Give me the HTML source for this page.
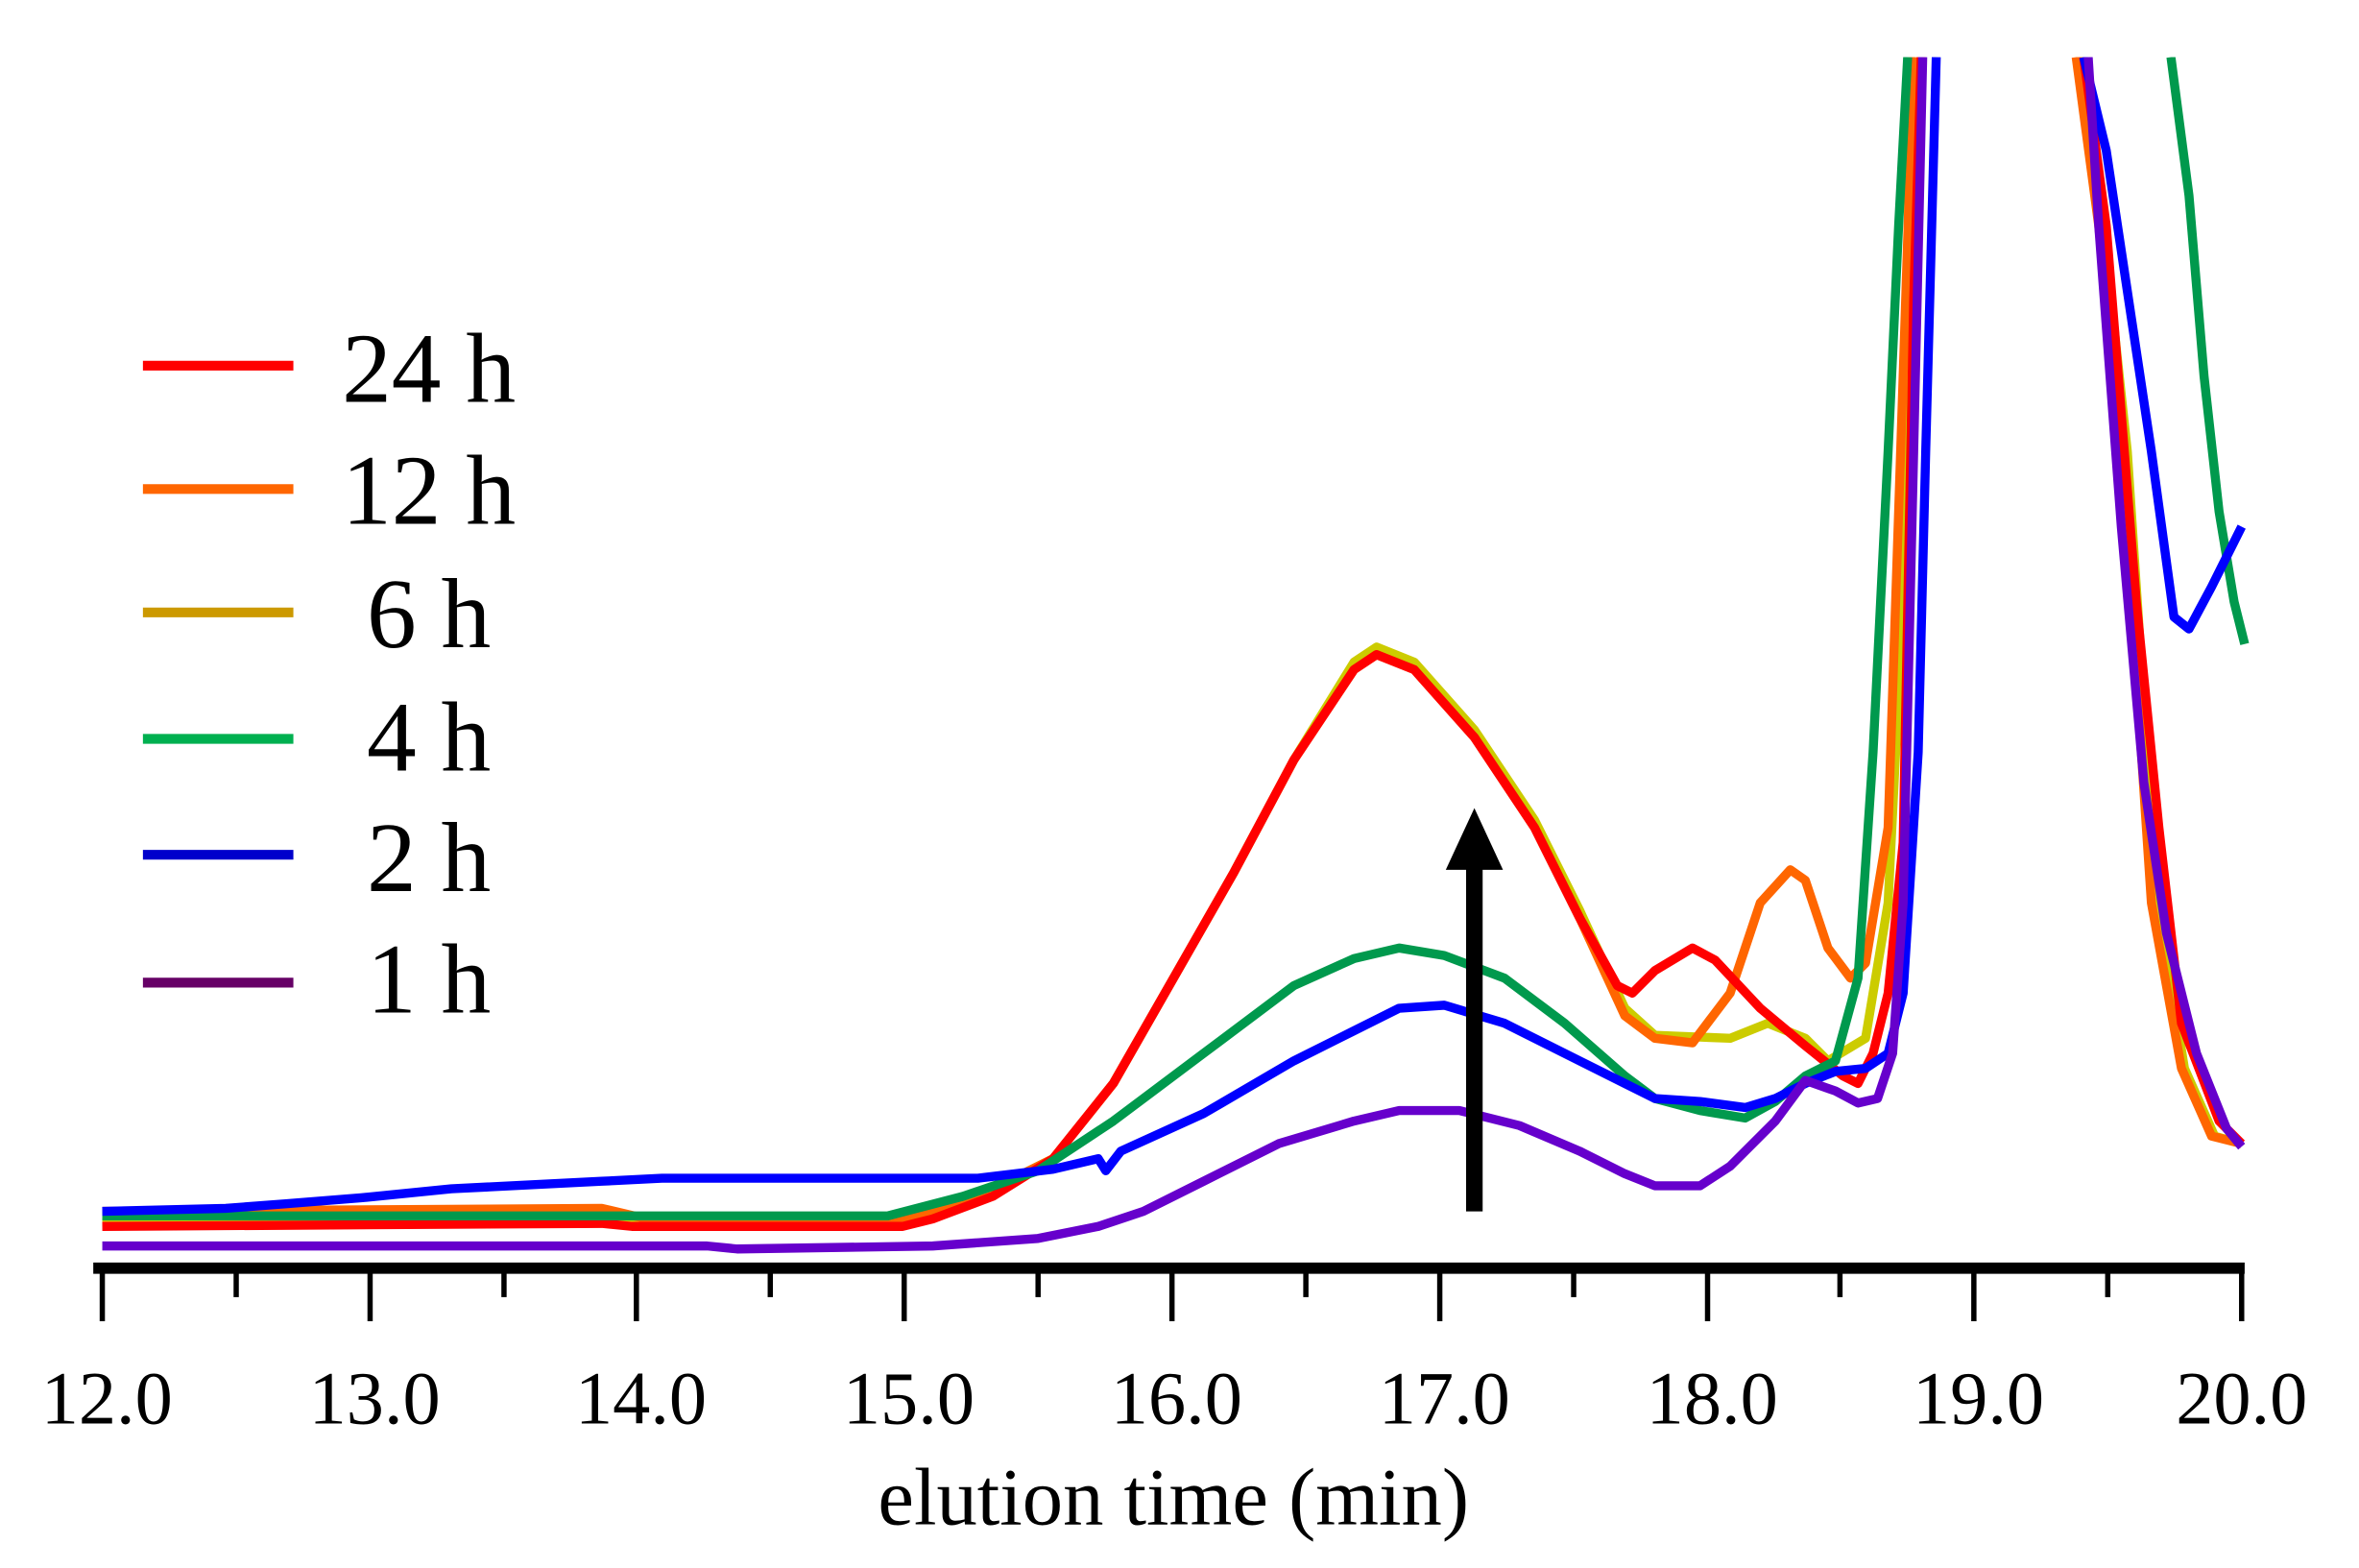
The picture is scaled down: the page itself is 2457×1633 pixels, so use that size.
<!DOCTYPE html>
<html><head><meta charset="utf-8"><style>
html,body{margin:0;padding:0;background:#fff;}
svg{display:block;}
text{font-family:"Liberation Serif",serif;fill:#000;}
</style></head><body>
<svg width="2457" height="1633" viewBox="0 0 1568 1042" preserveAspectRatio="none" xmlns="http://www.w3.org/2000/svg">
<defs><clipPath id="c"><rect x="60" y="38" width="1440" height="800"/></clipPath></defs>
<g clip-path="url(#c)" fill="none" stroke-width="6" stroke-linejoin="round">
<polyline stroke="#cccc00" points="68,812 300,810 600,810 640,800 700,770 740,720 780,650 820,580 860,505 900,440 915,430 940,440 980,485 1020,545 1050,605 1080,670 1100,688 1150,690 1175,680 1200,690 1215,705 1240,690 1255,600 1265,400 1270,38"/>
<polyline stroke="#cccc00" points="1382,38 1398,150 1414,300 1434,600 1452,710 1472,755 1490,760"/>
<polyline stroke="#ff6600" points="68,805 400,803 430,810 600,810 640,800 700,770 740,720 780,650 820,580 860,505 900,445 915,435 940,445 980,490 1020,550 1050,610 1080,675 1100,690 1125,693 1150,660 1170,600 1190,578 1200,585 1215,630 1230,650 1240,640 1255,550 1265,250 1272,38"/>
<polyline stroke="#ff6600" points="1380,38 1395,150 1410,300 1430,600 1450,710 1470,755 1490,760"/>
<polyline stroke="#ff0000" points="68,815 400,813 420,815 600,815 620,810 660,795 700,770 740,720 780,650 820,580 860,505 900,445 915,435 940,445 980,490 1020,550 1050,610 1075,655 1085,660 1100,645 1125,630 1140,638 1170,670 1200,695 1225,715 1235,720 1245,700 1255,660 1265,560 1272,200 1277,38"/>
<polyline stroke="#ff0000" points="1385,38 1400,150 1420,400 1435,550 1450,680 1475,745 1490,760"/>
<polyline stroke="#00994d" points="68,808 590,808 640,795 690,778 740,745 800,700 860,655 900,637 930,630 960,635 1000,650 1040,680 1080,715 1100,730 1130,738 1160,743 1180,732 1200,715 1220,705 1235,650 1245,500 1255,300 1262,150 1268,38"/>
<polyline stroke="#00994d" points="1443,38 1455,130 1465,250 1475,340 1485,400 1492,428"/>
<polyline stroke="#0000ff" points="68,805 150,803 190,800 240,796 300,790 400,785 440,783 650,783 700,777 730,770 735,778 745,765 800,740 860,705 900,685 930,670 960,668 1000,680 1040,700 1080,720 1100,730 1130,732 1160,736 1180,730 1200,720 1220,712 1240,710 1255,700 1265,660 1275,500 1280,300 1287,38"/>
<polyline stroke="#0000ff" points="1385,38 1400,100 1415,200 1430,300 1445,410 1455,418 1470,390 1490,350"/>
<polyline stroke="#6600cc" points="68,828 470,828 490,830 620,828 690,823 730,815 760,805 800,785 850,760 900,745 930,738 970,738 1010,748 1050,765 1080,780 1100,788 1130,788 1150,775 1180,745 1200,718 1220,725 1235,733 1248,730 1258,700 1265,600 1272,300 1278,38"/>
<polyline stroke="#6600cc" points="1388,38 1395,150 1410,350 1425,520 1440,620 1460,700 1480,750 1490,762"/>
</g>
<line x1="980" y1="805" x2="980" y2="570" stroke="#000" stroke-width="11"/>
<polygon points="980,537 961,578 999,578" fill="#000"/>
<rect x="62" y="839" width="1430" height="7.5" fill="#000"/>
<g stroke="#000" stroke-width="3.5">
<line x1="68" y1="845" x2="68" y2="878"/><line x1="246" y1="845" x2="246" y2="878"/><line x1="423" y1="845" x2="423" y2="878"/><line x1="601" y1="845" x2="601" y2="878"/><line x1="779" y1="845" x2="779" y2="878"/><line x1="957" y1="845" x2="957" y2="878"/><line x1="1135" y1="845" x2="1135" y2="878"/><line x1="1312" y1="845" x2="1312" y2="878"/><line x1="1490" y1="845" x2="1490" y2="878"/>
<line x1="157" y1="845" x2="157" y2="862"/><line x1="335" y1="845" x2="335" y2="862"/><line x1="512" y1="845" x2="512" y2="862"/><line x1="690" y1="845" x2="690" y2="862"/><line x1="868" y1="845" x2="868" y2="862"/><line x1="1046" y1="845" x2="1046" y2="862"/><line x1="1223" y1="845" x2="1223" y2="862"/><line x1="1401" y1="845" x2="1401" y2="862"/>
</g>
<g font-size="50" text-anchor="middle">
<text x="71" y="946">12.0</text><text x="249" y="946">13.0</text><text x="426" y="946">14.0</text><text x="604" y="946">15.0</text><text x="782" y="946">16.0</text><text x="960" y="946">17.0</text><text x="1138" y="946">18.0</text><text x="1315" y="946">19.0</text><text x="1490" y="946">20.0</text>
<text x="780" y="1013" font-size="54">elution time (min)</text>
</g>
<g stroke-width="6.5">
<line x1="95" y1="243" x2="195" y2="243" stroke="#ff0000"/>
<line x1="95" y1="325" x2="195" y2="325" stroke="#ff6600"/>
<line x1="95" y1="407" x2="195" y2="407" stroke="#cc9900"/>
<line x1="95" y1="491" x2="195" y2="491" stroke="#00b050"/>
<line x1="95" y1="568" x2="195" y2="568" stroke="#0000cc"/>
<line x1="95" y1="653" x2="195" y2="653" stroke="#660066"/>
</g>
<g font-size="66" text-anchor="middle">
<text x="285" y="267">24 h</text>
<text x="285" y="348">12 h</text>
<text x="285" y="430">6 h</text>
<text x="285" y="512">4 h</text>
<text x="285" y="592">2 h</text>
<text x="285" y="673">1 h</text>
</g>
</svg>
</body></html>
